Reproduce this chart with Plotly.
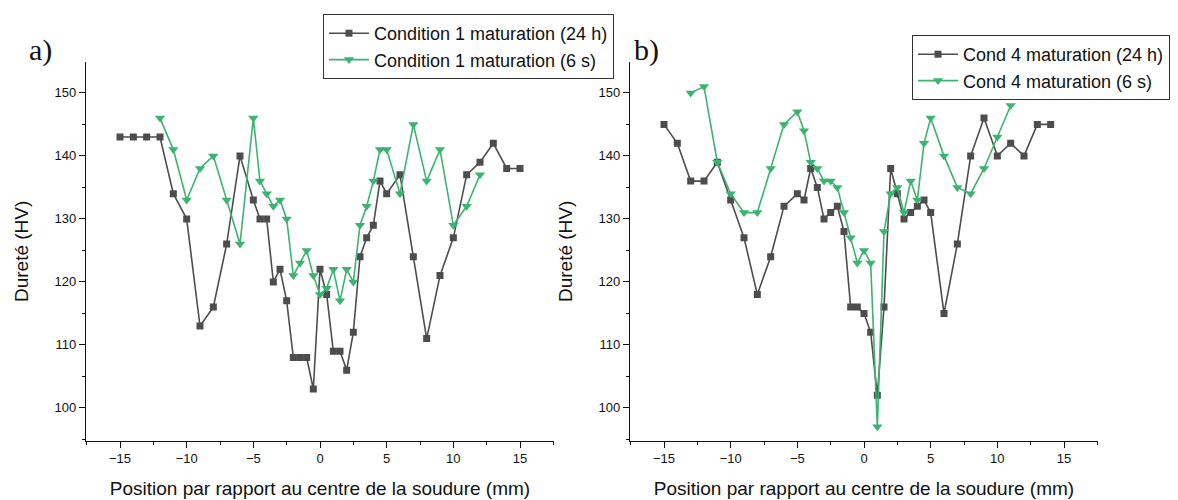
import plotly.graph_objects as go

# Panel a) - Condition 1
a_x_24h = [-15, -14, -13, -12, -11, -10, -9, -8, -7, -6, -5, -4.5, -4, -3.5, -3, -2.5, -2, -1.5, -1, -0.5,
           0, 0.5, 1, 1.5, 2, 2.5, 3, 3.5, 4, 4.5, 5, 6, 7, 8, 9, 10, 11, 12, 13, 14, 15]
a_y_24h = [143, 143, 143, 143, 134, 130, 113, 116, 126, 140, 133, 130, 130, 120, 122, 117, 108, 108, 108, 103,
           122, 118, 109, 109, 106, 112, 124, 127, 129, 136, 134, 137, 124, 111, 121, 127, 137, 139, 142, 138, 138]
a_x_6s = [-12, -11, -10, -9, -8, -7, -6, -5, -4.5, -4, -3.5, -3, -2.5, -2, -1.5, -1, -0.5,
          0, 0.5, 1, 1.5, 2, 2.5, 3, 3.5, 4, 4.5, 5, 6, 7, 8, 9, 10, 11, 12]
a_y_6s = [146, 141, 133, 138, 140, 133, 126, 146, 136, 134, 132, 133, 130, 121, 123, 125, 121,
          118, 119, 122, 117, 122, 120, 129, 132, 136, 141, 141, 134, 145, 136, 141, 129, 132, 137]

# Panel b) - Condition 4
b_x_24h = [-15, -14, -13, -12, -11, -10, -9, -8, -7, -6, -5, -4.5, -4, -3.5, -3, -2.5, -2, -1.5, -1, -0.5,
           0, 0.5, 1, 1.5, 2, 2.5, 3, 3.5, 4, 4.5, 5, 6, 7, 8, 9, 10, 11, 12, 13, 14]
b_y_24h = [145, 142, 136, 136, 139, 133, 127, 118, 124, 132, 134, 133, 138, 135, 130, 131, 132, 128, 116, 116,
           115, 112, 102, 116, 138, 134, 130, 131, 132, 133, 131, 115, 126, 140, 146, 140, 142, 140, 145, 145]
b_x_6s = [-13, -12, -11, -10, -9, -8, -7, -6, -5, -4.5, -4, -3.5, -3, -2.5, -2, -1.5, -1, -0.5,
          0, 0.5, 1, 1.5, 2, 2.5, 3, 3.5, 4, 4.5, 5, 6, 7, 8, 9, 10, 11]
b_y_6s = [150, 151, 139, 134, 131, 131, 138, 145, 147, 144, 139, 138, 136, 136, 135, 131, 127, 123,
          125, 123, 97, 128, 134, 135, 131, 136, 133, 142, 146, 140, 135, 134, 138, 143, 148]

names_a = ["Condition 1 maturation (24 h)", "Condition 1 maturation (6 s)"]
names_b = ["Cond 4 maturation (24 h)", "Cond 4 maturation (6 s)"]
x_tickvals = [-15, -10, -5, 0, 5, 10, 15]
y_tickvals = [100, 110, 120, 130, 140, 150]
x_title = "Position par rapport au centre de la soudure (mm)"
y_title = "Dureté (HV)"

GRAY = "#4d4d4d"
GREEN = "#3cb371"
W, H = 1178, 500

fig = go.Figure()

def add_pair(x1, y1, x2, y2, names, xa, ya, legend):
    fig.add_trace(go.Scatter(x=x1, y=y1, name=names[0], mode="lines+markers",
                             line=dict(color=GRAY, width=1.6),
                             marker=dict(symbol="square", size=7, color=GRAY, line=dict(width=0)),
                             xaxis=xa, yaxis=ya, legend=legend))
    fig.add_trace(go.Scatter(x=x2, y=y2, name=names[1], mode="lines+markers",
                             line=dict(color=GREEN, width=1.6),
                             marker=dict(symbol="triangle-down", size=9, color=GREEN, line=dict(width=0)),
                             xaxis=xa, yaxis=ya, legend=legend))

add_pair(a_x_24h, a_y_24h, a_x_6s, a_y_6s, names_a, "x", "y", "legend")
add_pair(b_x_24h, b_y_24h, b_x_6s, b_y_6s, names_b, "x2", "y2", "legend2")

FONT = "Liberation Sans, Arial, sans-serif"
tickfont = dict(family=FONT, size=13, color="#111")
titlefont = dict(family=FONT, size=19, color="#111")

def xaxis(domain):
    return dict(domain=domain, range=[-17.55, 17.55], tickvals=x_tickvals,
                showgrid=False, zeroline=False, showline=True, linecolor="#111", linewidth=1.2,
                ticks="outside", ticklen=6, tickwidth=1.2, tickcolor="#111",
                minor=dict(ticks="outside", ticklen=3, tickwidth=1, tickcolor="#111", dtick=2.5, tick0=0),
                tickfont=tickfont, title=dict(text=x_title, font=titlefont, standoff=16))

def yaxis(anchor):
    return dict(domain=[(H - 440.7) / H, (H - 62) / H], range=[94.8, 154.9], tickvals=y_tickvals,
                anchor=anchor,
                showgrid=False, zeroline=False, showline=True, linecolor="#111", linewidth=1.2,
                ticks="outside", ticklen=6, tickwidth=1.2, tickcolor="#111",
                minor=dict(ticks="outside", ticklen=3, tickwidth=1, tickcolor="#111", dtick=5, tick0=0),
                tickfont=tickfont, title=dict(text=y_title, font=titlefont, standoff=20))

legfont = dict(family=FONT, size=18, color="#111")

fig.update_layout(
    width=W, height=H,
    margin=dict(l=0, r=0, t=0, b=0, autoexpand=False),
    paper_bgcolor="white", plot_bgcolor="white",
    xaxis=xaxis([86 / W, 554 / W]),
    yaxis=yaxis("x"),
    xaxis2=dict(xaxis([630 / W, 1098 / W]), anchor="y2"),
    yaxis2=yaxis("x2"),
    legend=dict(x=323 / W, y=1 - 14 / H, xanchor="left", yanchor="top", font=legfont,
                bgcolor="white", bordercolor="#333", borderwidth=1, tracegroupgap=0,
                itemwidth=40),
    legend2=dict(x=912 / W, y=1 - 35 / H, xanchor="left", yanchor="top", font=legfont,
                 bgcolor="white", bordercolor="#333", borderwidth=1, tracegroupgap=0,
                 itemwidth=40),
    annotations=[
        dict(text="a)", x=27 / W, y=1 - 50 / H, xref="paper", yref="paper", xanchor="left",
             yanchor="middle", showarrow=False,
             font=dict(family="Liberation Serif, Times New Roman, serif", size=30, color="#111")),
        dict(text="b)", x=632 / W, y=1 - 50 / H, xref="paper", yref="paper", xanchor="left",
             yanchor="middle", showarrow=False,
             font=dict(family="Liberation Serif, Times New Roman, serif", size=30, color="#111")),
    ],
)

fig.write_html("out.html", config={"displayModeBar": False},
               post_script="document.body.style.margin='0px';document.body.style.overflow='hidden';")
